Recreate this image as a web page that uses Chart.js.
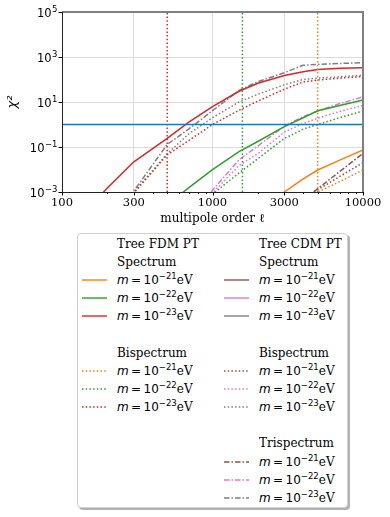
<!DOCTYPE html>
<html>
<head>
<meta charset="utf-8">
<script src="https://cdn.jsdelivr.net/npm/chart.js"></script>
<style>
  body { margin: 0; background: #fff; }
  #contenedor { position: relative; width: 390px; height: 517px; overflow: hidden; }
  #grafico { position: absolute; left: 0; top: 0; }
  #leyenda {
    position: absolute; left: 77px; top: 233px; width: 269px; height: 273px;
    border: 1px solid #cfcfcf; border-radius: 4px; background: #fff;
    box-shadow: 2px 2px 0 rgba(0, 0, 0, 0.3);
  }
  .fila {
    position: absolute; height: 18px; line-height: 18px; white-space: nowrap;
    font-family: "DejaVu Serif"; font-size: 12px; color: #000;
  }
  .manija { position: absolute; }
  .m { font-family: "DejaVu Sans"; font-style: italic; }
  .s { font-family: "DejaVu Sans"; }
  .sup { font-family: "DejaVu Sans"; font-size: 8.5px; position: relative; top: -5px; }
</style>
</head>
<body>
<div id="contenedor">
  <canvas id="grafico" width="390" height="230"></canvas>
  <div id="leyenda"></div>
</div>
<script>
//DATOS//
const ell = [100, 200, 300, 500, 700, 1000, 1500, 2000, 3000, 4000, 5000, 7000, 10000];

// Tree FDM PT
const fdmSpec21 = [null, null, null, null, null, null, null, 1e-4, 1.0e-3, 3.8e-3, 9.5e-3, 0.026, 0.074];
const fdmSpec22 = [null, null, null, 2.7e-4, 1.6e-3, 9.8e-3, 0.062, 0.175, 0.8, 2.0, 4.1, 7.0, 12.3];
const fdmSpec23 = [1e-5, 1.5e-3, 0.022, 0.24, 1.3, 6.2, 30, 68, 150, 222, 280, 315, 336];
const fdmBi21 = [null, null, null, null, null, null, null, null, 1e-5, 4.9e-4, 9.8e-4, 2.9e-3, 9.5e-3];
const fdmBi22 = [null, null, null, null, 1e-5, 8e-4, 7e-3, 0.03, 0.24, 0.62, 1.0, 2.0, 4.0];
const fdmBi23 = [null, 1e-6, 9e-4, 0.045, 0.2, 1.0, 4.3, 10.9, 37, 78, 95, 115, 135];

// Tree CDM PT
const cdmBi21 = [null, null, null, null, null, null, null, null, 1e-5, 5e-4, 1.25e-3, 4.9e-3, 0.02];
const cdmBi22 = [null, null, null, null, 1e-5, 9e-4, 0.015, 0.05, 0.46, 1.1, 1.9, 3.8, 7.0];
const cdmBi23 = [null, 1e-6, 1.0e-3, 0.05, 0.4, 2.0, 10, 22, 58, 100, 115, 132, 155];
const cdmTri21 = [null, null, null, null, null, null, null, null, 1e-5, 4.4e-4, 1.4e-3, 8.1e-3, 0.052];
const cdmTri22 = [null, null, null, null, 2e-5, 1.2e-3, 0.027, 0.11, 0.85, 2.2, 4.0, 8.5, 17];
const cdmTri23 = [null, 1e-6, 1.1e-3, 0.13, 0.65, 4.1, 33, 80, 200, 430, 470, 515, 560];

// lineas de referencia
const corteMasa = [500, 1580, 5000];
const umbralChi2 = 1;
const rangoX = [100, 10000];
const rangoY = [1e-3, 1e5];

// ejes
const xTicks = [100, 300, 1000, 3000, 10000];
const xTickLabels = ["100", "300", "1000", "3000", "10000"];
const xMinor = [200, 400, 500, 600, 700, 800, 900, 2000, 4000, 5000, 6000, 7000, 8000, 9000];
const xGrid = [300, 1000, 3000];
const yTicks = [1e-3, 1e-1, 1e1, 1e3, 1e5];
const yTickExp = ["−3", "−1", "1", "3", "5"];
const yGrid = [1e-1, 1e1, 1e3];

const masas = ["−21", "−22", "−23"];

//COLORES//
const naranja = "#ff7f0e";
const verde = "#2ca02c";
const rojo = "#d62728";
const cafe = "#8c564b";
const rosa = "#e377c2";
const gris = "#7f7f7f";
const azul = "#1f77b4";

const punteado = [1.5, 2.2];
const rayaPunto = [5.5, 2, 1.5, 2];

//FUNCIONES//
function puntos(valores) {
    const out = [];
    for (let i = 0; i < ell.length; i++) {
        if (valores[i] !== null) out.push({ x: ell[i], y: valores[i] });
    }
    return out;
}

function serie(valores, color, dash) {
    return {
        data: puntos(valores),
        borderColor: color,
        borderWidth: 1.5,
        borderDash: dash || [],
        pointRadius: 0,
        tension: 0,
        fill: false
    };
}

function vertical(x, color) {
    return {
        data: [{ x: x, y: rangoY[0] }, { x: x, y: rangoY[1] }],
        borderColor: color,
        borderWidth: 1.5,
        borderDash: punteado,
        pointRadius: 0
    };
}

//MARCO, TICKS Y ETIQUETAS DEL EJE Y//
const marco = {
    id: "marco",
    afterDraw(chart) {
        const { ctx, chartArea: a, scales } = chart;
        const x = scales.x, y = scales.y;
        ctx.save();
        ctx.strokeStyle = "#000";
        ctx.lineWidth = 1;
        ctx.beginPath();
        xTicks.forEach(v => {
            const px = Math.round(x.getPixelForValue(v)) + 0.5;
            ctx.moveTo(px, a.bottom); ctx.lineTo(px, a.bottom + 3.5);
        });
        xMinor.forEach(v => {
            const px = Math.round(x.getPixelForValue(v)) + 0.5;
            ctx.moveTo(px, a.bottom); ctx.lineTo(px, a.bottom + 2);
        });
        yTicks.forEach(v => {
            const py = Math.round(y.getPixelForValue(v)) + 0.5;
            ctx.moveTo(a.left, py); ctx.lineTo(a.left - 3.5, py);
        });
        ctx.stroke();

        // etiquetas 10^n con superindice
        ctx.fillStyle = "#000";
        ctx.textBaseline = "alphabetic";
        ctx.textAlign = "left";
        yTicks.forEach((v, i) => {
            const py = y.getPixelForValue(v);
            ctx.font = "8.5px 'DejaVu Sans'";
            const wExp = ctx.measureText(yTickExp[i]).width;
            ctx.font = "11.5px 'DejaVu Sans'";
            const wBase = ctx.measureText("10").width;
            const xr = a.left - 5;
            const xb = xr - wExp - wBase;
            ctx.fillText("10", xb, py + 4.5);
            ctx.font = "8.5px 'DejaVu Sans'";
            ctx.fillText(yTickExp[i], xb + wBase + 0.5, py - 0.5);
        });

        ctx.strokeStyle = "#808080";
        ctx.lineWidth = 2;
        ctx.beginPath();
        ctx.moveTo(a.left, a.top); ctx.lineTo(a.right, a.top); ctx.lineTo(a.right, a.bottom);
        ctx.stroke();

        ctx.strokeStyle = "#222";
        ctx.lineWidth = 1;
        ctx.beginPath();
        ctx.moveTo(a.left + 0.5, a.top); ctx.lineTo(a.left + 0.5, a.bottom + 0.5); ctx.lineTo(a.right, a.bottom + 0.5);
        ctx.stroke();
        ctx.restore();
    }
};

//GRAFICO//
const datasets = [
    { data: [{ x: rangoX[0], y: umbralChi2 }, { x: rangoX[1], y: umbralChi2 }], borderColor: azul, borderWidth: 1.5, pointRadius: 0 },
    vertical(corteMasa[0], rojo),
    vertical(corteMasa[1], verde),
    vertical(corteMasa[2], naranja),
    serie(fdmSpec21, naranja),
    serie(fdmSpec22, verde),
    serie(fdmSpec23, rojo),
    serie(fdmBi21, naranja, punteado),
    serie(fdmBi22, verde, punteado),
    serie(fdmBi23, rojo, punteado),
    serie(cdmBi21, cafe, punteado),
    serie(cdmBi22, rosa, punteado),
    serie(cdmBi23, gris, punteado),
    serie(cdmTri21, cafe, rayaPunto),
    serie(cdmTri22, rosa, rayaPunto),
    serie(cdmTri23, gris, rayaPunto)
];

const chart = new Chart(document.getElementById("grafico"), {
    type: "line",
    data: { datasets: datasets },
    options: {
        responsive: false,
        animation: false,
        devicePixelRatio: 1,
        layout: { padding: { top: 12, right: 27, left: 0, bottom: 0 } },
        plugins: { legend: { display: false }, tooltip: { enabled: false } },
        scales: {
            x: {
                type: "logarithmic",
                min: rangoX[0],
                max: rangoX[1],
                afterBuildTicks: (s) => { s.ticks = xTicks.map(v => ({ value: v })); },
                afterFit: (s) => { s.height = 38; },
                ticks: {
                    callback: (v, i) => xTickLabels[i],
                    font: { family: "DejaVu Serif", size: 11.5 },
                    color: "#000",
                    padding: 4,
                    maxRotation: 0,
                    autoSkip: false
                },
                grid: {
                    drawTicks: false,
                    color: (c) => (c.tick && xGrid.includes(c.tick.value)) ? "#dcdcdc" : "rgba(0,0,0,0)"
                },
                border: { display: false },
                title: {
                    display: true,
                    text: "multipole order ℓ",
                    font: { family: "DejaVu Serif", size: 12 },
                    color: "#000",
                    padding: { top: 0, bottom: 4 }
                }
            },
            y: {
                type: "logarithmic",
                min: rangoY[0],
                max: rangoY[1],
                afterBuildTicks: (s) => { s.ticks = yTicks.map(v => ({ value: v })); },
                afterFit: (s) => { s.width = 62; },
                ticks: { display: false },
                grid: {
                    drawTicks: false,
                    color: (c) => (c.tick && yGrid.includes(c.tick.value)) ? "#dcdcdc" : "rgba(0,0,0,0)"
                },
                border: { display: false },
                title: {
                    display: true,
                    text: "χ²",
                    font: { family: "DejaVu Sans", size: 13, style: "italic" },
                    color: "#000",
                    padding: { top: 5, bottom: 0 }
                }
            }
        }
    },
    plugins: [marco]
});

//LEYENDA//
const leyenda = document.getElementById("leyenda");
const paso = 18.17;
const y0 = 9.5;

function manija(col, fila, color, dash) {
    const left = col === 0 ? 4 : 146;
    const svg = `<svg class="manija" width="25" height="6" style="left:${left}px;top:${y0 + fila * paso - 3}px">` +
        `<line x1="0" y1="3" x2="25" y2="3" stroke="${color}" stroke-width="1.4" stroke-dasharray="${dash.join(" ")}"/></svg>`;
    leyenda.insertAdjacentHTML("beforeend", svg);
}

function texto(col, fila, html) {
    const left = col === 0 ? 39 : 181;
    leyenda.insertAdjacentHTML("beforeend",
        `<div class="fila" style="left:${left}px;top:${y0 + fila * paso - 9}px">${html}</div>`);
}

function entrada(col, fila, color, dash, masa) {
    manija(col, fila, color, dash);
    texto(col, fila, `<span class="m">m</span><span class="s">&thinsp;=&thinsp;10</span><span class="sup">${masa}</span>eV`);
}

texto(0, 0, "Tree FDM PT");
texto(0, 1, "Spectrum");
[naranja, verde, rojo].forEach((c, i) => entrada(0, 2 + i, c, [], masas[i]));
texto(0, 6, "Bispectrum");
[naranja, verde, rojo].forEach((c, i) => entrada(0, 7 + i, c, punteado, masas[i]));

texto(1, 0, "Tree CDM PT");
texto(1, 1, "Spectrum");
[cafe, rosa, gris].forEach((c, i) => entrada(1, 2 + i, c, [], masas[i]));
texto(1, 6, "Bispectrum");
[cafe, rosa, gris].forEach((c, i) => entrada(1, 7 + i, c, punteado, masas[i]));
texto(1, 11, "Trispectrum");
[cafe, rosa, gris].forEach((c, i) => entrada(1, 12 + i, c, rayaPunto, masas[i]));
</script>
</body>
</html>
